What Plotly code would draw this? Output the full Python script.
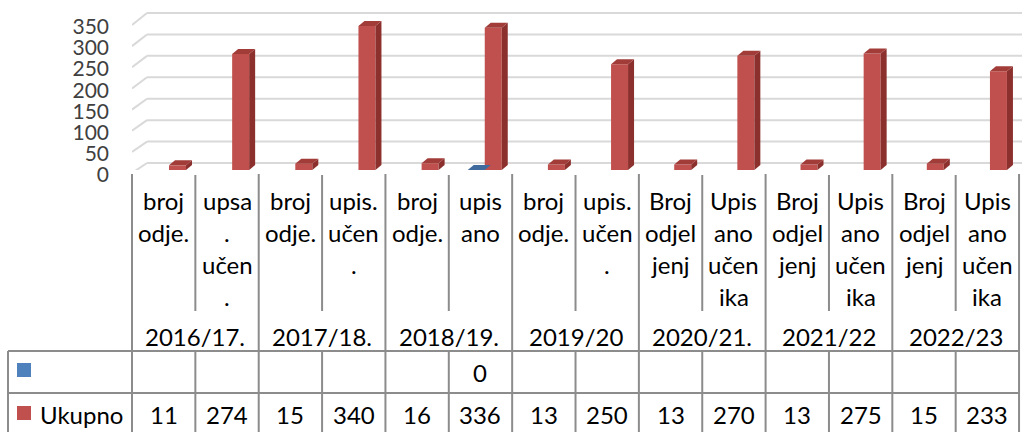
import plotly.graph_objects as go

# ---------------- data ----------------
years = ["2016/17.", "2017/18.", "2018/19.", "2019/20", "2020/21.", "2021/22", "2022/23"]
sub_labels = [
    ["broj", "odje."], ["upsa", ".", "učen", "."],
    ["broj", "odje."], ["upis.", "učen", "."],
    ["broj", "odje."], ["upis", "ano"],
    ["broj", "odje."], ["upis.", "učen", "."],
    ["Broj", "odjel", "jenj"], ["Upis", "ano", "učen", "ika"],
    ["Broj", "odjel", "jenj"], ["Upis", "ano", "učen", "ika"],
    ["Broj", "odjel", "jenj"], ["Upis", "ano", "učen", "ika"],
]
series_blank_name = ""
series_blank = [None, None, None, None, None, 0, None, None, None, None, None, None, None, None]
series_total_name = "Ukupno"
series_total = [11, 274, 15, 340, 16, 336, 13, 250, 13, 270, 13, 275, 15, 233]
y_ticks = [0, 50, 100, 150, 200, 250, 300, 350]

# ---------------- geometry helpers ----------------
W, H = 1022, 432
FONT = "Lato"
n = len(sub_labels)
x_of = list(range(n))

# bar axis: category i centre at pixel 169 + 63.15*i ; y: 0 at pixel 170, 0.4235 px per unit
BX0, BXS = 169.0, 63.15
BY0, BYS = 170.0, 0.4235
plot_left, plot_right, plot_top = 132.0, 1022.0, 10.0
xr = [(plot_left - BX0) / BXS, (plot_right - BX0) / BXS]
yr = [0, (BY0 - plot_top) / BYS]

def xdata(px):
    return (px - BX0) / BXS

def ydata(py):
    return (BY0 - py) / BYS

def px_(x):
    return x / W

def py_(y):
    return 1 - y / H

RED, RED_SIDE, RED_TOP = "#C0504D", "#8C302D", "#A13C39"
BLUE, BLUE_SIDE, BLUE_TOP = "#4F81BD", "#385D8A", "#3F6A9E"
GRID = "#D9D9D9"
TLINE = "#8C8C8C"

fig = go.Figure()
fig.add_trace(go.Bar(x=x_of, y=series_blank, name=series_blank_name, marker_color=BLUE,
                     marker_line_width=0, showlegend=False))
fig.add_trace(go.Bar(x=x_of, y=series_total, name=series_total_name, marker_color=RED,
                     marker_line_width=0, showlegend=False))

shapes = []
# back wall gridlines + left side wall lines
for v in y_ticks:
    yb = 163 - 0.4286 * v
    yf = 173 - 0.4229 * v
    shapes.append(dict(type="line", xref="x", yref="y", x0=xdata(147), x1=xr[1],
                       y0=ydata(yb), y1=ydata(yb), line=dict(color=GRID, width=2), layer="below"))
    shapes.append(dict(type="line", xref="x", yref="y", x0=xdata(132), x1=xdata(147),
                       y0=ydata(yf), y1=ydata(yb), line=dict(color=GRID, width=2), layer="below"))

# 3D faces of bars
bw = 17 / BXS
ddx = 6 / BXS
ddy = 5 / BYS

def faces(xl, v, side, top):
    xr_ = xl + bw
    s = []
    s.append(dict(type="path", xref="x", yref="y", fillcolor=side, line=dict(width=0),
                  path=f"M{xr_},0 L{xr_+ddx},{ddy} L{xr_+ddx},{v+ddy} L{xr_},{v} Z"))
    s.append(dict(type="path", xref="x", yref="y", fillcolor=top, line=dict(width=0),
                  path=f"M{xl},{v} L{xr_},{v} L{xr_+ddx},{v+ddy} L{xl+ddx},{v+ddy} Z"))
    return s

for i in range(n):
    if series_blank[i] is not None:
        shapes += faces(x_of[i] - bw, series_blank[i], BLUE_SIDE, BLUE_TOP)
    if series_total[i] is not None:
        shapes += faces(x_of[i], series_total[i], RED_SIDE, RED_TOP)

# ---------------- data table ----------------
T_LEFT, C0, CW = 8.0, 132.0, 63.36
col_x = [C0 + CW * k for k in range(n + 1)]

def pline(x0, y0, x1, y1):
    return dict(type="line", xref="paper", yref="paper", x0=px_(x0), x1=px_(x1),
                y0=py_(y0), y1=py_(y1), line=dict(color=TLINE, width=2))

for k, cx in enumerate(col_x):
    if k % 2 == 0:
        shapes.append(pline(cx, 174, cx, 434))
    else:
        shapes.append(pline(cx, 175, cx, 311))
        shapes.append(pline(cx, 351, cx, 434))
shapes.append(pline(T_LEFT, 351, T_LEFT, 434))
shapes.append(pline(T_LEFT, 351, col_x[-1], 351))
shapes.append(pline(T_LEFT, 393, col_x[-1], 393))

# legend keys
shapes.append(dict(type="rect", xref="paper", yref="paper", x0=px_(17), x1=px_(31),
                   y0=py_(363), y1=py_(377), fillcolor=BLUE, line=dict(width=0)))
shapes.append(dict(type="rect", xref="paper", yref="paper", x0=px_(17), x1=px_(31),
                   y0=py_(406), y1=py_(420), fillcolor=RED, line=dict(width=0)))

ann = []
TF = dict(family=FONT, size=24, color="#000000")
line_y = [200, 232, 264, 296]
for k, lines in enumerate(sub_labels):
    cx = C0 + CW * (k + 0.5)
    for j, t in enumerate(lines):
        ann.append(dict(xref="paper", yref="paper", x=px_(cx), y=py_(line_y[j]), text=t,
                        showarrow=False, xanchor="center", yanchor="middle", font=TF))
for g, yl in enumerate(years):
    cx = C0 + CW * (2 * g + 1)
    ann.append(dict(xref="paper", yref="paper", x=px_(cx), y=py_(336), text=yl,
                    showarrow=False, xanchor="center", yanchor="middle", font=TF))
for k in range(n):
    cx = C0 + CW * (k + 0.5)
    if series_blank[k] is not None:
        ann.append(dict(xref="paper", yref="paper", x=px_(cx), y=py_(372), text=str(series_blank[k]),
                        showarrow=False, xanchor="center", yanchor="middle", font=TF))
    if series_total[k] is not None:
        ann.append(dict(xref="paper", yref="paper", x=px_(cx), y=py_(414), text=str(series_total[k]),
                        showarrow=False, xanchor="center", yanchor="middle", font=TF))
ann.append(dict(xref="paper", yref="paper", x=px_(38), y=py_(414), text=series_total_name,
                showarrow=False, xanchor="left", yanchor="middle", font=TF))

fig.update_layout(
    width=W, height=H,
    margin=dict(l=0, r=0, t=0, b=0),
    paper_bgcolor="white", plot_bgcolor="rgba(0,0,0,0)",
    barmode="group", bargap=0.462, bargroupgap=0,
    shapes=shapes, annotations=ann, showlegend=False,
    xaxis=dict(domain=[plot_left / W, plot_right / W], range=xr, showgrid=False,
               zeroline=False, showticklabels=False, ticks="", automargin=False, fixedrange=True),
    yaxis=dict(domain=[1 - BY0 / H, 1 - plot_top / H], range=yr, tickvals=y_ticks,
               showgrid=False, zeroline=False, ticks="", automargin=False,
               ticklabelstandoff=22, ticklabelshift=5,
               tickfont=dict(family=FONT, size=21, color="#404040"), fixedrange=True),
    font=dict(family=FONT),
)

fig.write_html("out.html", config={"displayModeBar": False},
               post_script="document.body.style.margin='0';document.body.style.overflow='hidden';")
